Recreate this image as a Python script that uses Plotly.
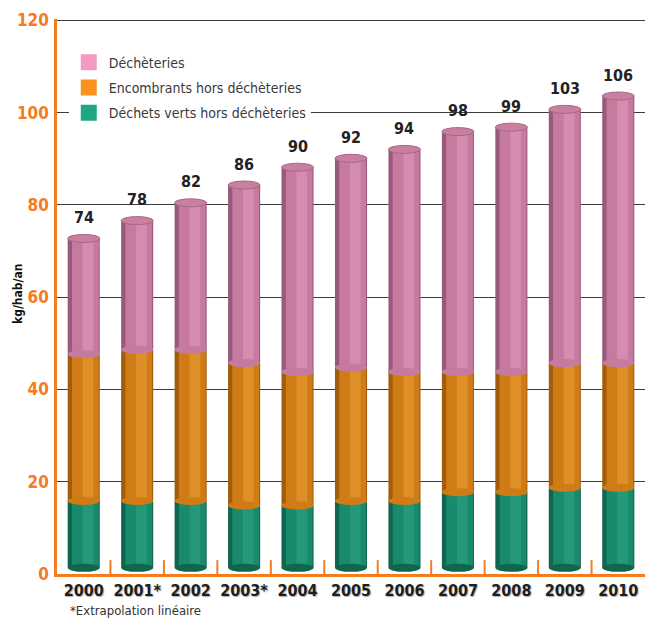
import plotly.graph_objects as go

# Household waste collected per inhabitant (kg/hab/an)
years = ["2000", "2001*", "2002", "2003*", "2004", "2005", "2006", "2007", "2008", "2009", "2010"]
dechets_verts = [15, 15, 15, 14, 14, 15, 15, 17, 17, 18, 18]
encombrants = [33, 34, 34, 32, 30, 30, 29, 27, 27, 28, 28]
decheteries = [26, 29, 33, 40, 46, 47, 50, 54, 55, 57, 60]

names = ["Déchets verts hors déchèteries", "Encombrants hors déchèteries", "Déchèteries"]
series = [dechets_verts, encombrants, decheteries]

# (dark edge, body, highlight) shades for the cylinder look, plus legend swatch colour
shades = [
    ("#10654e", "#1a8a6c", "#23997a"),
    ("#a35c0c", "#d07c16", "#de8f27"),
    ("#985a7c", "#c67a9f", "#d58cb1"),
]
legend_colors = ["#1ea784", "#f7931e", "#f49ac1"]

NARROW = "DejaVu Sans Condensed"
ORANGE = "#f47b20"

BAR_W = 0.6
CAP = 0.9  # half height of the elliptical caps, in value units
TICK_H = 3.0  # height of the boundary tick marks, in axis units

fig = go.Figure()

n = len(years)
idx = list(range(n))
base = [0] * n
shapes = []
for k, (name, vals, (dark, mid, light)) in enumerate(zip(names, series, shades)):
    for width, offset, color in [(BAR_W, -BAR_W / 2, dark), (0.5, -0.22, mid), (0.2, -0.02, light)]:
        fig.add_bar(
            x=years, y=vals, base=base, width=width, offset=offset,
            marker=dict(color=color, line=dict(width=0)),
            showlegend=False, hoverinfo="skip", xaxis="x", yaxis="y2",
        )
    # elliptical bottom of each segment (rounds the join with the segment below)
    for i in idx:
        shapes.append(dict(
            type="circle", xref="x", yref="y2",
            x0=i - BAR_W / 2, x1=i + BAR_W / 2,
            y0=base[i] - CAP, y1=base[i] + CAP,
            fillcolor=mid if k else dark, line=dict(width=0), layer="above",
        ))
    base = [b + v for b, v in zip(base, vals)]

totals = base
# top caps of the cylinders
for i in idx:
    shapes.append(dict(
        type="circle", xref="x", yref="y2",
        x0=i - BAR_W / 2, x1=i + BAR_W / 2,
        y0=totals[i] - CAP, y1=totals[i] + CAP,
        fillcolor="#c9809f", line=dict(color="#a9668a", width=1), layer="above",
    ))

# short upward tick marks on the category boundaries of the x axis
tick_x, tick_y = [], []
for i in idx[:-1]:
    tick_x += [i + 0.5, i + 0.5, None]
    tick_y += [0, TICK_H, None]
fig.add_scatter(
    x=tick_x, y=tick_y, mode="lines", xaxis="x2", yaxis="y",
    line=dict(color=ORANGE, width=2), showlegend=False, hoverinfo="skip",
    cliponaxis=False,
)

# legend swatches
for name, col in reversed(list(zip(names, legend_colors))):
    fig.add_scatter(
        x=[None], y=[None], mode="markers", name=name, legendgroup=name,
        marker=dict(symbol="square", size=16, color=col),
    )

annotations = []
for i, tot in zip(idx, totals):
    annotations.append(dict(
        x=i, y=tot, xref="x", yref="y2", text=str(tot), showarrow=False,
        yanchor="middle", yshift=21,
        font=dict(family=NARROW, size=16, color="#222222", weight="bold"),
    ))

annotations.append(dict(
    text="kg/hab/an", xref="paper", yref="paper", x=-0.0663, y=0.5045,
    textangle=-90, showarrow=False, xanchor="center", yanchor="middle",
    font=dict(family=NARROW, size=12, color="#111111", weight="bold"),
))
annotations.append(dict(
    text="*Extrapolation linéaire", xref="paper", yref="paper", x=0.0187, y=-0.0655,
    showarrow=False, xanchor="left", yanchor="middle",
    font=dict(family=NARROW, size=13, color="#333333"),
))

fig.update_layout(
    width=645, height=619,
    margin=dict(l=57, r=0, t=19, b=45, autoexpand=False),
    plot_bgcolor="white", paper_bgcolor="white",
    barmode="overlay",
    showlegend=True,
    legend=dict(
        x=0.02, y=0.95, xanchor="left", yanchor="top",
        bgcolor="white", font=dict(family=NARROW, size=14, color="#3a3a3a"),
        traceorder="grouped", tracegroupgap=4,
    ),
    xaxis=dict(
        type="category", categoryorder="array", categoryarray=years,
        range=[-0.5, n - 0.5], tickangle=0, automargin=False,
        showline=True, linecolor=ORANGE, linewidth=2.5,
        ticks="", showgrid=False, zeroline=False,
        tickfont=dict(family=NARROW, size=16, color="#1e1e1e", weight="bold",
                      shadow="1px 1px 1px #b0b0b0"),
        ticklabelstandoff=0,
    ),
    # numeric twin of the category axis, used only for the boundary ticks
    xaxis2=dict(overlaying="x", type="linear", range=[-0.5, n - 0.5], visible=False),
    yaxis=dict(
        range=[0, 120.3], dtick=20, tick0=0, automargin=False,
        showline=True, linecolor=ORANGE, linewidth=2.5,
        showgrid=True, gridcolor="#3c3c3c", gridwidth=1.3, zeroline=False,
        tickfont=dict(family=NARROW, size=17, color=ORANGE, weight="bold"),
        ticklabelstandoff=2,
    ),
    # the cylinders stand on the front plane of the 3D box, slightly in front of the grid wall
    yaxis2=dict(overlaying="y", range=[-1.393, 123.3], visible=False),
    shapes=shapes,
    annotations=annotations,
)

fig.write_html("out.html")
